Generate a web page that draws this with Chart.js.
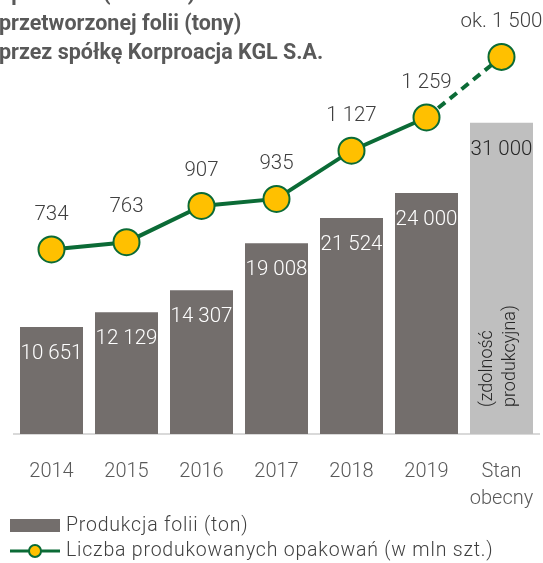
<!DOCTYPE html>
<html>
<head>
<meta charset="utf-8">
<script src="https://cdn.jsdelivr.net/npm/chart.js@4.4.1/dist/chart.umd.min.js"></script>
<style>
  html, body { margin: 0; padding: 0; background: #fff; overflow: hidden; }
  #wrap { position: relative; width: 543px; height: 563px; }
</style>
</head>
<body>
<div id="wrap"><canvas id="chart" width="543" height="563"></canvas></div>
<script>
// dane
const categories = ['2014', '2015', '2016', '2017', '2018', '2019', ['Stan', 'obecny']];
const foilTons = [10651, 12129, 14307, 19008, 21524, 24000, 31000];
const packagesMln = [734, 763, 907, 935, 1127, 1259, 1500];
const packageLabels = ['734', '763', '907', '935', '1 127', '1 259', 'ok. 1 500'];
const foilLabels = ['10 651', '12 129', '14 307', '19 008', '21 524', '24 000', '31 000'];
const titleLines = ['opakowań (mln szt.) oraz ilość', 'przetworzonej folii (tony)', 'przez spółkę Korproacja KGL S.A.'];
const legendNames = ['Produkcja folii (ton)', 'Liczba produkowanych opakowań (w mln szt.)'];
const capacityNote = ['(zdolność', 'produkcyjna)'];

const BAR_DARK = '#736e6c';
const BAR_LIGHT = '#bfbfbf';
const GREEN = '#0b6b36';
const YELLOW = '#ffc000';
const TEXT = '#404040';
const FAMILY = 'Roboto, "Liberation Sans", sans-serif';

// napisy, legenda i etykiety wartosci
const extras = {
    id: 'extras',
    afterDatasetsDraw(chart) {
        const ctx = chart.ctx;
        const bars = chart.getDatasetMeta(1).data;
        const pts = chart.getDatasetMeta(0).data;
        ctx.save();

        // etykiety na slupkach
        ctx.font = '300 20.5px ' + FAMILY;
        ctx.textAlign = 'center';
        ctx.textBaseline = 'middle';
        bars.forEach((b, i) => {
            ctx.fillStyle = i === 6 ? '#262626' : '#ffffff';
            ctx.fillText(foilLabels[i], b.x, b.y + 27);
        });

        // etykiety nad punktami
        ctx.fillStyle = TEXT;
        pts.forEach((p, i) => {
            ctx.fillText(packageLabels[i], p.x, p.y - 35);
        });

        // tekst obrocony w ostatnim slupku
        const last = bars[6];
        ctx.save();
        ctx.translate(last.x, chart.chartArea.bottom - 27);
        ctx.rotate(-Math.PI / 2);
        ctx.font = '300 18px ' + FAMILY;
        ctx.fillStyle = '#262626';
        ctx.textAlign = 'left';
        ctx.fillText(capacityNote[0], 0, -14);
        ctx.fillText(capacityNote[1], 0, 9);
        ctx.restore();

        // tytul
        ctx.font = 'bold 21.5px ' + FAMILY;
        ctx.fillStyle = '#595959';
        ctx.textAlign = 'left';
        titleLines.forEach((t, i) => ctx.fillText(t, -1, -5 + i * 29.5));

        // legenda
        ctx.font = '300 19.5px ' + FAMILY;
        ctx.letterSpacing = '0.8px';
        ctx.fillStyle = BAR_DARK;
        ctx.fillRect(10, 519, 50, 13);
        ctx.fillStyle = TEXT;
        ctx.fillText(legendNames[0], 66, 526);

        ctx.strokeStyle = GREEN;
        ctx.lineWidth = 3;
        ctx.beginPath();
        ctx.moveTo(10, 551);
        ctx.lineTo(60, 551);
        ctx.stroke();
        ctx.beginPath();
        ctx.arc(35, 551, 6, 0, Math.PI * 2);
        ctx.fillStyle = YELLOW;
        ctx.fill();
        ctx.lineWidth = 2;
        ctx.stroke();
        ctx.fillStyle = TEXT;
        ctx.fillText(legendNames[1], 66, 551);

        ctx.restore();
    }
};

new Chart(document.getElementById('chart'), {
    data: {
        labels: categories,
        datasets: [{
            type: 'line',
            label: legendNames[1],
            data: packagesMln,
            yAxisID: 'y1',
            order: 0,
            borderColor: GREEN,
            borderWidth: 4,
            pointRadius: 13,
            pointBorderWidth: 2,
            pointBackgroundColor: YELLOW,
            pointBorderColor: GREEN,
            tension: 0,
            clip: false,
            segment: {
                borderDash: c => c.p1DataIndex === 6 ? [9, 6] : undefined
            }
        }, {
            type: 'bar',
            label: legendNames[0],
            data: foilTons,
            yAxisID: 'y',
            order: 1,
            backgroundColor: foilTons.map((v, i) => i === 6 ? BAR_LIGHT : BAR_DARK),
            categoryPercentage: 1,
            barPercentage: 0.84
        }]
    },
    options: {
        responsive: false,
        animation: false,
        layout: { autoPadding: false, padding: { left: 14, right: 4, top: 34, bottom: 0 } },
        plugins: {
            legend: { display: false },
            tooltip: { enabled: false }
        },
        scales: {
            x: {
                grid: { display: false },
                border: { display: true, color: '#d9d9d9', width: 2 },
                ticks: {
                    color: '#595959',
                    font: { family: FAMILY, size: 20, weight: '300', lineHeight: 1.35 },
                    padding: 16,
                    maxRotation: 0,
                    autoSkip: false
                },
                afterFit(scale) {
                    scale.height = 129;
                    scale.paddingLeft = 0;
                    scale.paddingRight = 0;
                }
            },
            y: { display: false, min: 0, max: 39840 },
            y1: { display: false, min: 0, max: 1591 }
        }
    },
    plugins: [extras]
});
</script>
</body>
</html>
